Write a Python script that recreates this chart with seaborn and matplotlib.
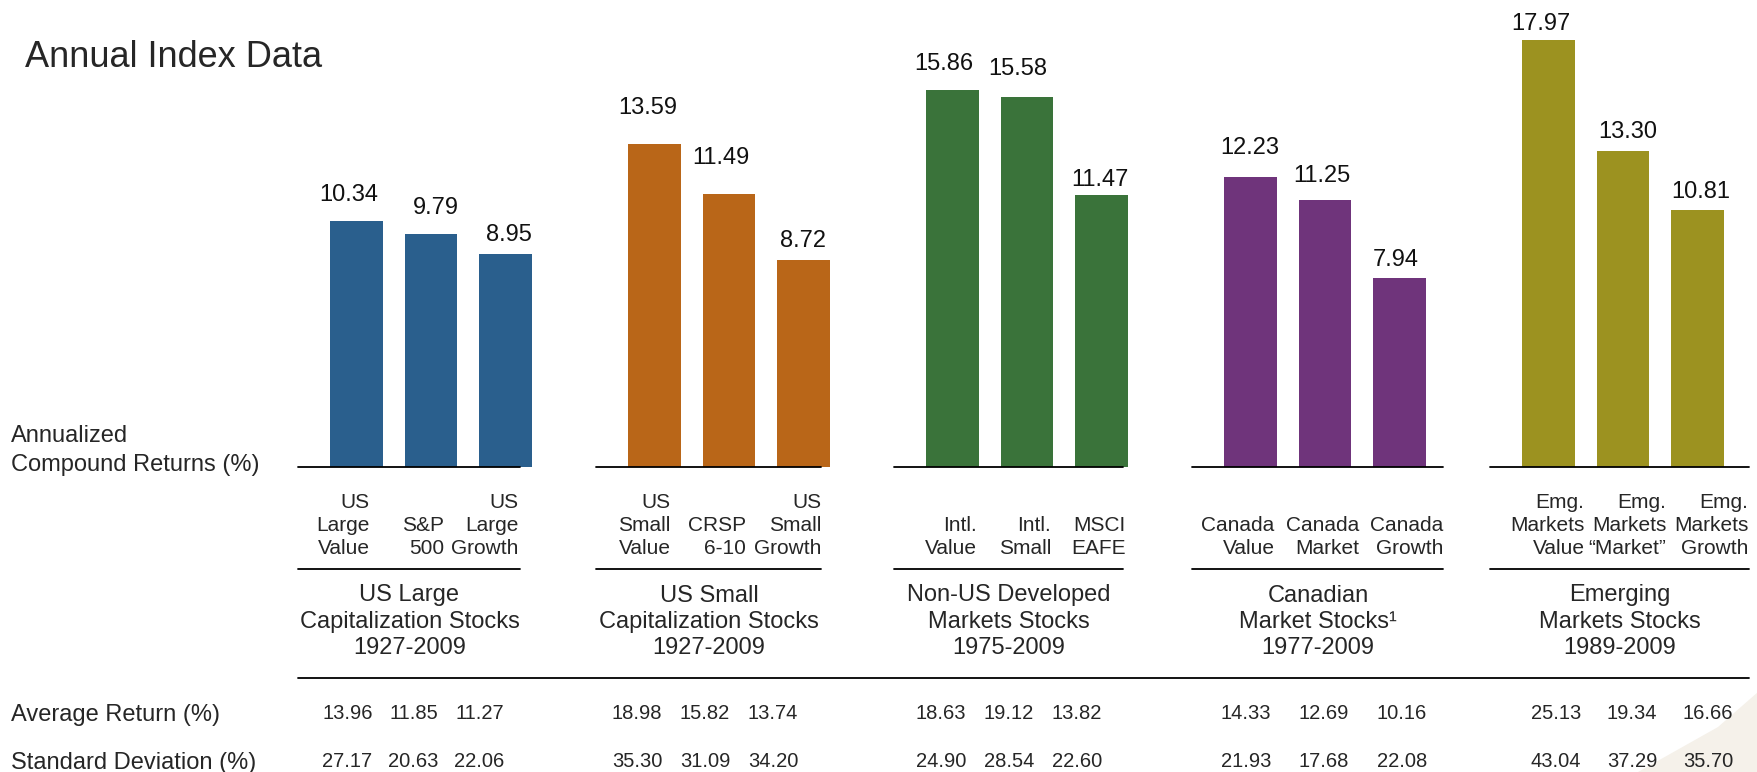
import numpy as np
import pandas as pd
import seaborn as sns
import matplotlib
matplotlib.use('Agg')
import matplotlib.pyplot as plt
import matplotlib.transforms as mtrans
from matplotlib.patches import Polygon

# data
group_titles = ['US Large\nCapitalization Stocks\n1927-2009',
                'US Small\nCapitalization Stocks\n1927-2009',
                'Non-US Developed\nMarkets Stocks\n1975-2009',
                'Canadian\nMarket Stocks\u00b9\n1977-2009',
                'Emerging\nMarkets Stocks\n1989-2009']
index_labels = [['US\nLarge\nValue', 'S&P\n500', 'US\nLarge\nGrowth'],
                ['US\nSmall\nValue', 'CRSP\n6-10', 'US\nSmall\nGrowth'],
                ['Intl.\nValue', 'Intl.\nSmall', 'MSCI\nEAFE'],
                ['Canada\nValue', 'Canada\nMarket', 'Canada\nGrowth'],
                ['Emg.\nMarkets\nValue', 'Emg.\nMarkets\n\u201cMarket\u201d', 'Emg.\nMarkets\nGrowth']]
compound_returns = [[10.34, 9.79, 8.95],
                    [13.59, 11.49, 8.72],
                    [15.86, 15.58, 11.47],
                    [12.23, 11.25, 7.94],
                    [17.97, 13.30, 10.81]]
average_return = [[13.96, 11.85, 11.27],
                  [18.98, 15.82, 13.74],
                  [18.63, 19.12, 13.82],
                  [14.33, 12.69, 10.16],
                  [25.13, 19.34, 16.66]]
standard_deviation = [[27.17, 20.63, 22.06],
                      [35.30, 31.09, 34.20],
                      [24.90, 28.54, 22.60],
                      [21.93, 17.68, 22.08],
                      [43.04, 37.29, 35.70]]
colors = ['#2a5f8d', '#b96618', '#3a733a', '#6f347b', '#9c9220']

W, H, DPI = 1758, 772, 100
PPU = 74.5          # pixels per bar slot
X0 = 356.5          # pixel position of first bar
BASE = 467          # pixel row of the baseline
PX_PER_PCT = 23.75

def fy(py):
    return 1 - py / H

sns.set_style('white')
plt.rcParams['font.family'] = ['Liberation Sans', 'DejaVu Sans']

fig = plt.figure(figsize=(W / DPI, H / DPI), dpi=DPI)
ax = fig.add_axes([0, fy(BASE), 1, BASE / H])

rows = []
for g, vals in enumerate(compound_returns):
    for j, v in enumerate(vals):
        rows.append({'group': group_titles[g], 'pos': g * 4 + j, 'value': v})
df = pd.DataFrame(rows)

sns.barplot(data=df, x='pos', y='value', hue='group', palette=colors,
            native_scale=True, dodge=False, width=0.71, saturation=1,
            linewidth=0, errorbar=None, legend=False, ax=ax)
ax.set_xlim(-X0 / PPU, (W - X0) / PPU)
ax.set_ylim(0, BASE / PX_PER_PCT)
ax.axis('off')

# value labels: the original has slightly uneven gaps above the bars (px)
lab_gap = [[20, 20, 13], [30, 30, 13], [20, 22, 9], [23, 18, 12], [10, 13, 12]]
lab_shift = [[-7.5, 5, 3], [-7, -8, 0], [-8.5, -9.5, -2], [-1, -3.5, -4], [-8, 5, 3]]
for g in range(5):
    for j in range(3):
        v = compound_returns[g][j]
        ax.annotate(f'{v:.2f}', (g * 4 + j, v),
                    xytext=(lab_shift[g][j] * 0.72, lab_gap[g][j] * 0.72),
                    textcoords='offset points', ha='center', va='baseline',
                    fontsize=17, color='#111111')

blend = mtrans.blended_transform_factory(ax.transData, fig.transFigure)

def shifted(dx_px):
    return blend + mtrans.ScaledTranslation(dx_px / DPI, 0, fig.dpi_scale_trans)

# layout tweaks per group (pixels)
line_left = 58
line_right = [15, 18, 22, 44, 52]
lab_dx = [13, 16, 24, 24, 36]
lab_step = [0, 1, 0, 10, 7.5]
num_step = [66, 68, 68, 78, 76]
num_shift = [4, -4, 0, 6, 12]

for g in range(5):
    xl = g * 4 - line_left / PPU
    xr = g * 4 + 2 + line_right[g] / PPU
    ax.plot([xl, xr], [0, 0], color='black', lw=1.3, clip_on=False, zorder=5)
    ax.plot([xl, xr], [fy(569)] * 2, color='black', lw=1.3, transform=blend,
            clip_on=False)
    mid = (xl + xr) / 2
    for k, line in enumerate(group_titles[g].split('\n')):
        ax.text(mid, fy(601.5 + k * 26.5), line, transform=blend,
                ha='center', va='baseline', fontsize=17)
    for j in range(3):
        x = g * 4 + j
        parts = index_labels[g][j].split('\n')
        for k, line in enumerate(reversed(parts)):
            ax.text(x, fy(554.5 - k * 23.5), line,
                    transform=shifted(lab_dx[g] + j * lab_step[g]),
                    ha='right', va='baseline', fontsize=15)
        dx = (j - 1) * num_step[g] + num_shift[g]
        ax.text(mid, fy(719), f'{average_return[g][j]:.2f}',
                transform=shifted(dx), ha='center', va='baseline',
                fontsize=14.5)
        ax.text(mid, fy(767), f'{standard_deviation[g][j]:.2f}',
                transform=shifted(dx), ha='center', va='baseline',
                fontsize=14.5)

# bottom separator across all groups
ax.plot([-line_left / PPU, 16 + 2 + line_right[4] / PPU], [fy(678)] * 2,
        color='black', lw=1.3, transform=blend, clip_on=False)

fig.text(25 / W, fy(67), 'Annual Index Data', fontsize=26, va='baseline')
fig.text(11 / W, fy(441.5), 'Annualized', fontsize=17, va='baseline')
fig.text(11 / W, fy(471.5), 'Compound Returns (%)', fontsize=17, va='baseline')
fig.text(11 / W, fy(720.5), 'Average Return (%)', fontsize=17, va='baseline')
fig.text(11 / W, fy(768.5), 'Standard Deviation (%)', fontsize=17, va='baseline')

# faint decorative wedge in the bottom right corner
wedge = Polygon([[1 - 120 / W, 0], [1 - 40 / W, 45 / H], [1, 80 / H], [1, 0]],
                closed=True, transform=fig.transFigure,
                facecolor='#f5f1ea', edgecolor='none', zorder=-1)
fig.patches.append(wedge)

fig.savefig('out.png', dpi=DPI)
